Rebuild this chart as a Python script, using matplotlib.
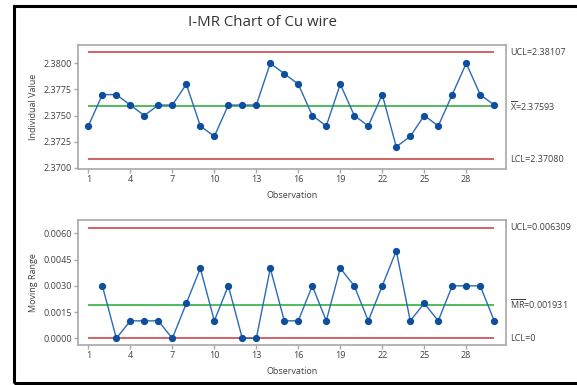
import numpy as np
import matplotlib
matplotlib.use("Agg")
import matplotlib.pyplot as plt
from matplotlib.patches import Rectangle

plt.rcParams['font.family'] = ['Open Sans', 'DejaVu Sans']
plt.rcParams['mathtext.fontset'] = 'custom'
plt.rcParams['mathtext.rm'] = 'Open Sans'

# Cu wire diameter measurements, one per observation
observations = list(range(1, 31))
individual_values = [2.374, 2.377, 2.377, 2.376, 2.375, 2.376, 2.376, 2.378, 2.374, 2.373,
                     2.376, 2.376, 2.376, 2.380, 2.379, 2.378, 2.375, 2.374, 2.378, 2.375,
                     2.374, 2.377, 2.372, 2.373, 2.375, 2.374, 2.377, 2.380, 2.377, 2.376]
x_ticks = [1, 4, 7, 10, 13, 16, 19, 22, 25, 28]
i_yticks = [2.3700, 2.3725, 2.3750, 2.3775, 2.3800]
mr_yticks = [0.0000, 0.0015, 0.0030, 0.0045, 0.0060]

vals = np.array(individual_values)
mr = np.abs(np.diff(vals))
mr_obs = observations[1:]
x_bar = vals.mean()
mr_bar = mr.mean()
i_ucl = x_bar + 2.66 * mr_bar
i_lcl = x_bar - 2.66 * mr_bar
mr_ucl = 3.267 * mr_bar
mr_lcl = 0.0

W, H = 577, 385
fig = plt.figure(figsize=(W / 100, H / 100), dpi=100)
fig.patch.set_facecolor('white')

# outer frame (right side runs off the canvas)
fig.add_artist(Rectangle((14 / W, 1 - 383 / H), 800 / W, (383 - 6) / H,
                         transform=fig.transFigure, fill=False,
                         edgecolor='black', linewidth=2.2, clip_on=False))

fig.text(262 / W, 1 - 22 / H, 'I-MR Chart of Cu wire', ha='center', va='center',
         fontsize=10.8, color='#333333', fontweight='medium')

RED = '#c8383c'
GREEN = '#22a832'
BLUE = '#2a6bb5'
MARK = '#0d4f9e'
SPINE = '#a8a8a8'
TXT = '#404040'


def style(ax):
    for s in ax.spines.values():
        s.set_color(SPINE)
        s.set_linewidth(1.2)
    ax.tick_params(axis='both', colors=SPINE, labelcolor=TXT, labelsize=6.5,
                   length=3, width=1, pad=1.5)
    ax.set_xticks(x_ticks)
    ax.set_xlim(0.26, 30.82)
    ax.set_xlabel('Observation', fontsize=6.5, color=TXT, labelpad=4.5)


def axes_px(left, top, right, bottom):
    return fig.add_axes([left / W, 1 - bottom / H, (right - left) / W, (bottom - top) / H])


# Individuals chart
ax1 = axes_px(78, 45, 505.7, 169)
style(ax1)
ax1.hlines([i_ucl, i_lcl], observations[0], observations[-1], color=RED, lw=1.1)
ax1.hlines(x_bar, observations[0], observations[-1], color=GREEN, lw=1.1)
ax1.plot(observations, individual_values, color=BLUE, lw=1.0, marker='o',
         markersize=4.2, markerfacecolor=MARK, markeredgecolor=MARK, zorder=3)
ax1.set_ylim(2.36988, 2.38175)
ax1.set_yticks(i_yticks)
ax1.set_yticklabels([f'{v:.4f}' for v in i_yticks])
ax1.set_ylabel('Individual Value', fontsize=6.5, color=TXT, labelpad=4)

ax1.text(1.011, i_ucl, f'UCL={i_ucl:.5f}', transform=ax1.get_yaxis_transform(),
         fontsize=6.5, color=TXT, va='center')
ax1.text(1.011, x_bar, r'$\overline{\mathrm{X}}$' + f'={x_bar:.5f}',
         transform=ax1.get_yaxis_transform(), fontsize=6.5, color=TXT, va='center')
ax1.text(1.011, i_lcl, f'LCL={i_lcl:.5f}', transform=ax1.get_yaxis_transform(),
         fontsize=6.5, color=TXT, va='center')

# Moving range chart
ax2 = axes_px(78, 220, 505.7, 345)
style(ax2)
ax2.hlines([mr_ucl, mr_lcl], observations[0], observations[-1], color=RED, lw=1.1)
ax2.hlines(mr_bar, observations[0], observations[-1], color=GREEN, lw=1.1)
ax2.plot(mr_obs, mr, color=BLUE, lw=1.0, marker='o',
         markersize=4.2, markerfacecolor=MARK, markeredgecolor=MARK, zorder=3)
ax2.set_ylim(-0.00038, 0.00676)
ax2.set_yticks(mr_yticks)
ax2.set_yticklabels([f'{v:.4f}' for v in mr_yticks])
ax2.set_ylabel('Moving Range', fontsize=6.5, color=TXT, labelpad=4)

ax2.text(1.011, mr_ucl, f'UCL={mr_ucl:.6f}', transform=ax2.get_yaxis_transform(),
         fontsize=6.5, color=TXT, va='center')
ax2.text(1.011, mr_bar, r'$\overline{\mathrm{MR}}$' + f'={mr_bar:.6f}',
         transform=ax2.get_yaxis_transform(), fontsize=6.5, color=TXT, va='center')
ax2.text(1.011, mr_lcl, 'LCL=0', transform=ax2.get_yaxis_transform(),
         fontsize=6.5, color=TXT, va='center')

fig.savefig('out.png', dpi=100)
